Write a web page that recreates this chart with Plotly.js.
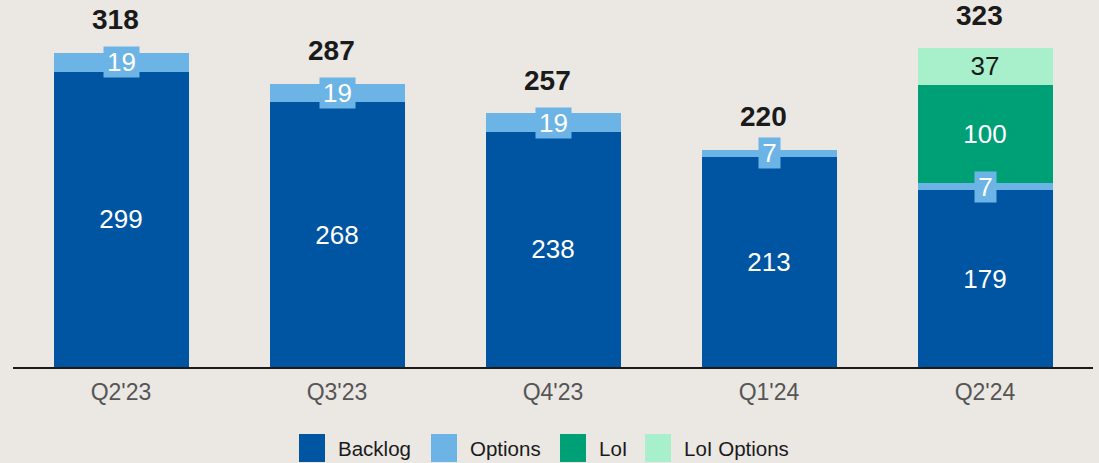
<!DOCTYPE html>
<html>
<head>
<meta charset="utf-8">
<script src="https://cdn.plot.ly/plotly-3.0.1.min.js"></script>
<style>
  html, body { margin: 0; padding: 0; background: #ebe7e3; }
  #chart { width: 1099px; height: 463px; }
</style>
</head>
<body>
<div id="chart"></div>
<script>
// ---- data ----
const categories = ["Q2'23", "Q3'23", "Q4'23", "Q1'24", "Q2'24"];
const backlog    = [299, 268, 238, 213, 179];
const options    = [19, 19, 19, 7, 7];
const loi        = [null, null, null, null, 100];
const loiOptions = [null, null, null, null, 37];
const totals     = [318, 287, 257, 220, 323];
const seriesNames = ["Backlog", "Options", "LoI", "LoI Options"];

// ---- style ----
const FONT = '"Liberation Sans", Arial, sans-serif';
const colors = {
  "Backlog": "#0055a2",
  "Options": "#6cb4e6",
  "LoI": "#00a077",
  "LoI Options": "#a8f0cc"
};
const BG = "#ebe7e3";

const M = {l: 13, r: 6, t: 10, b: 96};
const W = 1099, H = 463;
const plotW = W - M.l - M.r, plotH = H - M.t - M.b;

function barTrace(name, vals, showText, textColor) {
  return {
    type: 'bar', name: name, x: categories, y: vals,
    marker: {color: colors[name], line: {width: 0}},
    text: showText ? vals.map(v => v == null ? '' : String(v)) : undefined,
    textposition: showText ? 'inside' : 'none',
    insidetextanchor: 'middle',
    constraintext: 'none',
    textfont: {family: FONT, size: 26, color: textColor},
    hoverinfo: 'skip', showlegend: false
  };
}

const traces = [
  barTrace("Backlog", backlog, true, '#ffffff'),
  barTrace("Options", options, false, '#ffffff'),
  barTrace("LoI", loi, true, '#ffffff'),
  barTrace("LoI Options", loiOptions, true, '#1a1a1a')
];

const annotations = [];
// boxed option labels
categories.forEach((c, i) => {
  const label = String(options[i]);
  annotations.push({
    x: c, y: backlog[i] + options[i] / 2, xref: 'x', yref: 'y',
    text: label, showarrow: false,
    font: {family: FONT, size: 26, color: '#ffffff'},
    bgcolor: colors["Options"], borderpad: 0,
    width: 7 + 14 * label.length, height: 30,
    xanchor: 'center', yanchor: 'middle'
  });
});
// totals
categories.forEach((c, i) => {
  annotations.push({
    x: c, y: totals[i], xref: 'x', yref: 'y',
    text: '<b>' + totals[i] + '</b>', showarrow: false,
    font: {family: FONT, size: 28, color: '#1a1a1a'},
    xanchor: 'center', yanchor: 'middle', yshift: 33, xshift: -6
  });
});

// custom legend (large square swatches)
const shapes = [];
const legendLeftPx = [299, 431, 560, 645];
const legendCenterYPx = 448;
const px2x = p => (p - M.l) / plotW;
const px2y = p => (H - M.b - p) / plotH;
seriesNames.forEach((n, i) => {
  const x0 = legendLeftPx[i];
  shapes.push({
    type: 'rect', xref: 'paper', yref: 'paper',
    x0: px2x(x0), x1: px2x(x0 + 26),
    y0: px2y(legendCenterYPx + 14), y1: px2y(legendCenterYPx - 14),
    fillcolor: colors[n], line: {width: 0}
  });
  annotations.push({
    xref: 'paper', yref: 'paper',
    x: px2x(x0 + 37), y: px2y(legendCenterYPx),
    xanchor: 'left', yanchor: 'middle', showarrow: false,
    text: n, font: {family: FONT, size: 20.5, color: '#1a1a1a'}
  });
});

const layout = {
  width: W, height: H,
  margin: M,
  paper_bgcolor: BG, plot_bgcolor: BG,
  barmode: 'stack', bargap: 0.375,
  showlegend: false,
  font: {family: FONT},
  xaxis: {
    type: 'category', showgrid: false, zeroline: false,
    showline: true, linecolor: '#1a1a1a', linewidth: 1.5,
    ticks: '', ticklabelstandoff: 4,
    tickfont: {family: FONT, size: 23, color: '#555555'},
    fixedrange: true
  },
  yaxis: {
    range: [0, 361.5], visible: false, showgrid: false, zeroline: false,
    fixedrange: true
  },
  annotations: annotations,
  shapes: shapes
};

Plotly.newPlot('chart', traces, layout, {displayModeBar: false, staticPlot: true});
</script>
</body>
</html>
